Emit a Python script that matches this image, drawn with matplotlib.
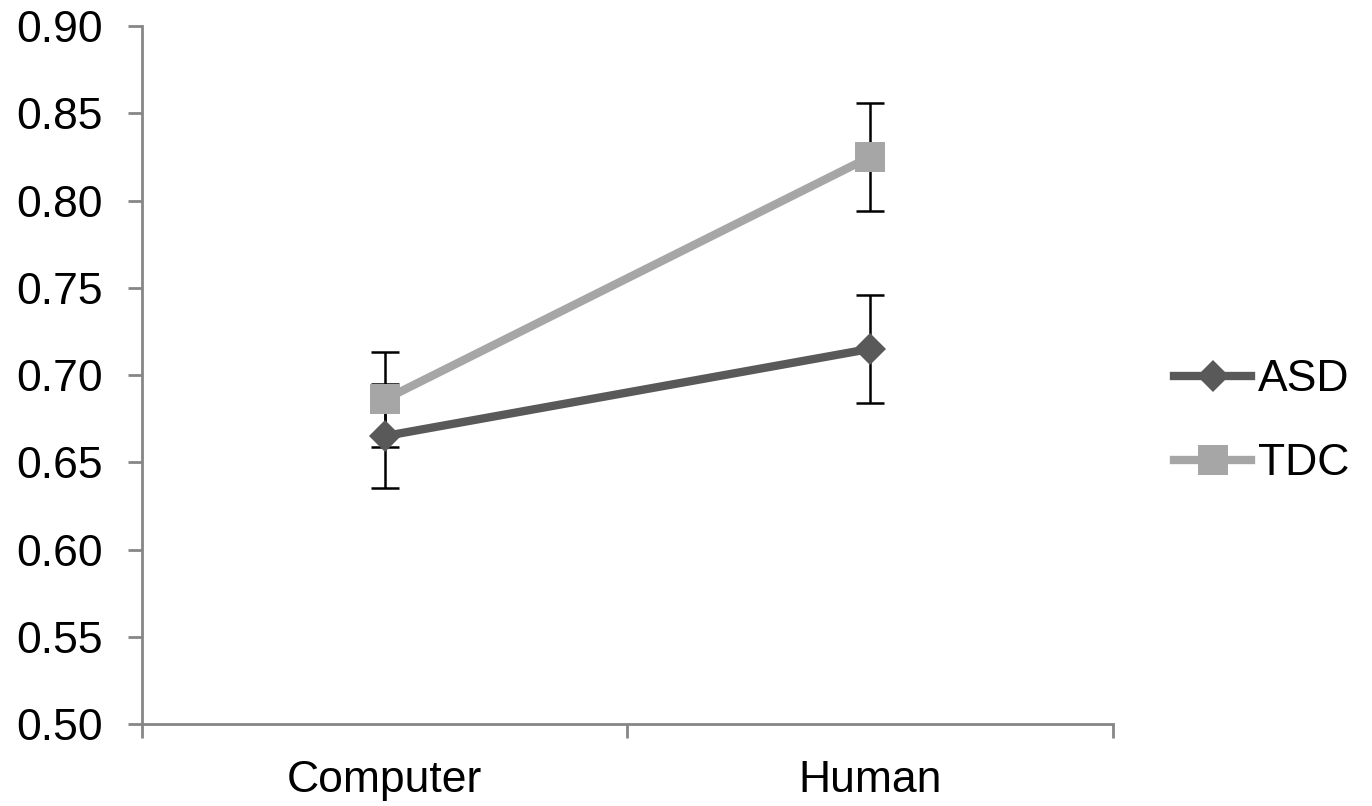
import matplotlib
matplotlib.use("Agg")
import matplotlib.pyplot as plt
import numpy as np

categories = ["Computer", "Human"]
series_names = ["ASD", "TDC"]
asd_values = [0.665, 0.715]
asd_errors = [0.030, 0.031]
tdc_values = [0.686, 0.825]
tdc_errors = [0.027, 0.031]
y_ticks = [0.50, 0.55, 0.60, 0.65, 0.70, 0.75, 0.80, 0.85, 0.90]

plt.rcParams['font.family'] = ['Liberation Sans', 'DejaVu Sans']

fig = plt.figure(figsize=(13.72, 8.06), dpi=100)
ax = fig.add_axes([0.1035, 0.1017, 0.7077, 0.866])

x = np.arange(len(categories)) + 0.5

asd_color = "#595959"
tdc_color = "#A6A6A6"

# error bars (behind the markers)
ax.errorbar(x, asd_values, yerr=asd_errors, fmt='none', ecolor='black',
            elinewidth=1.8, capsize=10, capthick=1.8, zorder=2)
ax.errorbar(x, tdc_values, yerr=tdc_errors, fmt='none', ecolor='black',
            elinewidth=1.8, capsize=10, capthick=1.8, zorder=2)

ax.plot(x, tdc_values, color=tdc_color, lw=6, marker='s', markersize=22,
        markeredgewidth=0, label=series_names[1], zorder=3)
ax.plot(x, asd_values, color=asd_color, lw=6, marker='D', markersize=16,
        markeredgewidth=0, label=series_names[0], zorder=4)

ax.set_xlim(0, len(categories))
ax.set_ylim(0.50, 0.90)
ax.set_yticks(y_ticks)
ax.set_yticklabels([f"{v:.2f}" for v in y_ticks])

ax.set_xticks(np.arange(len(categories) + 1))
ax.set_xticklabels([])
ax.set_xticks(x, minor=True)
ax.set_xticklabels(categories, minor=True)

axis_color = "#868686"
for side in ["top", "right"]:
    ax.spines[side].set_visible(False)
for side in ["left", "bottom"]:
    ax.spines[side].set_color(axis_color)
    ax.spines[side].set_linewidth(2)

ax.tick_params(axis='y', which='major', direction='out', length=10, width=2,
               color=axis_color, labelsize=32, pad=18, labelcolor='black')
ax.tick_params(axis='x', which='major', direction='out', length=10, width=2,
               color=axis_color)
ax.tick_params(axis='x', which='minor', length=0, labelsize=32, pad=26,
               labelcolor='black')

handles, labels = ax.get_legend_handles_labels()
order = [1, 0]
leg = ax.legend([handles[i] for i in order], [labels[i] for i in order],
                loc='center left', bbox_to_anchor=(1.0625, 0.433),
                frameon=False, fontsize=32, handlelength=1.75,
                handletextpad=0.15, labelspacing=0.975, borderpad=0,
                borderaxespad=0)

fig.savefig("out.png", dpi=100, facecolor='white')
